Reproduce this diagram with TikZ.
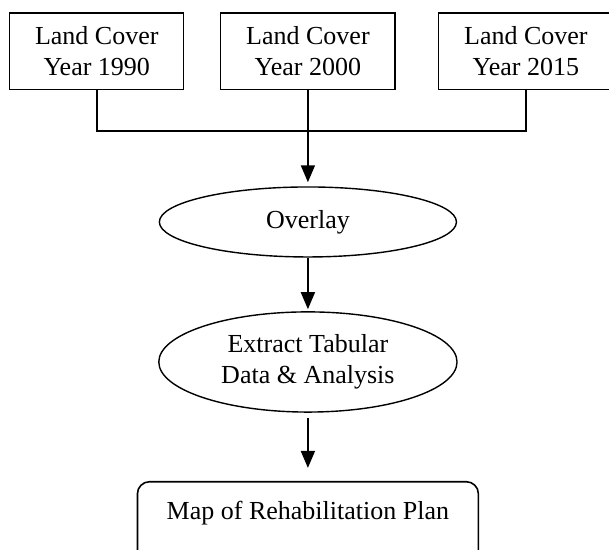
\documentclass[tikz,border=0pt]{standalone}
\usepackage{fontspec}
\setmainfont{Liberation Serif}
\usetikzlibrary{arrows.meta, positioning, shapes.geometric}
\tikzset{
  yearbox/.style={draw, line width=0.6pt, minimum width=3.06cm, minimum height=1.34cm, inner sep=2pt, align=center, font=\fontsize{13}{15.3}\selectfont},
  stepoval/.style={draw, ellipse, line width=0.7pt, inner sep=0pt, align=center, font=\fontsize{13}{15.3}\selectfont},
  planbox/.style={draw, line width=0.8pt, rounded corners=6pt, minimum width=5.99cm, inner xsep=0pt, inner ysep=0pt, text height=19pt, text depth=40pt, font=\fontsize{13}{15.3}\selectfont},
  link/.style={line width=0.9pt},
  arrow/.style={-{Triangle[length=8.5pt, width=7pt]}, line width=0.9pt}
}
\begin{document}
\begin{tikzpicture}
\useasboundingbox (0,0) rectangle (10.70,-9.65);
\clip (0,0) rectangle (10.70,-9.65);
\node[yearbox] (y1990) at (1.70,-0.90) {Land Cover\\Year 1990};
\node[yearbox] (y2000) at (5.41,-0.90) {Land Cover\\Year 2000};
\node[yearbox] (y2015) at (9.24,-0.90) {Land Cover\\Year 2015};
\node[stepoval, minimum width=5.22cm, minimum height=1.23cm] (overlay) at (5.41,-3.90) {Overlay};
\node[stepoval, minimum width=5.24cm, minimum height=1.76cm] (extract) at (5.41,-6.36) {Extract Tabular\\Data \& Analysis};
\node[planbox, anchor=north] (plan) at (5.41,-8.45) {Map of Rehabilitation Plan};
\coordinate (bus) at (5.41,-2.30);
\draw[link] (y1990.south) |- (bus) -| (y2015.south);
\draw[arrow, shorten >=2pt] (y2000.south) -- (overlay.north);
\draw[arrow, shorten >=1pt] (overlay.south) -- (extract.north);
\draw[arrow, shorten <=2.5pt, shorten >=6.5pt] (extract.south) -- (plan.north);
\end{tikzpicture}
\end{document}
